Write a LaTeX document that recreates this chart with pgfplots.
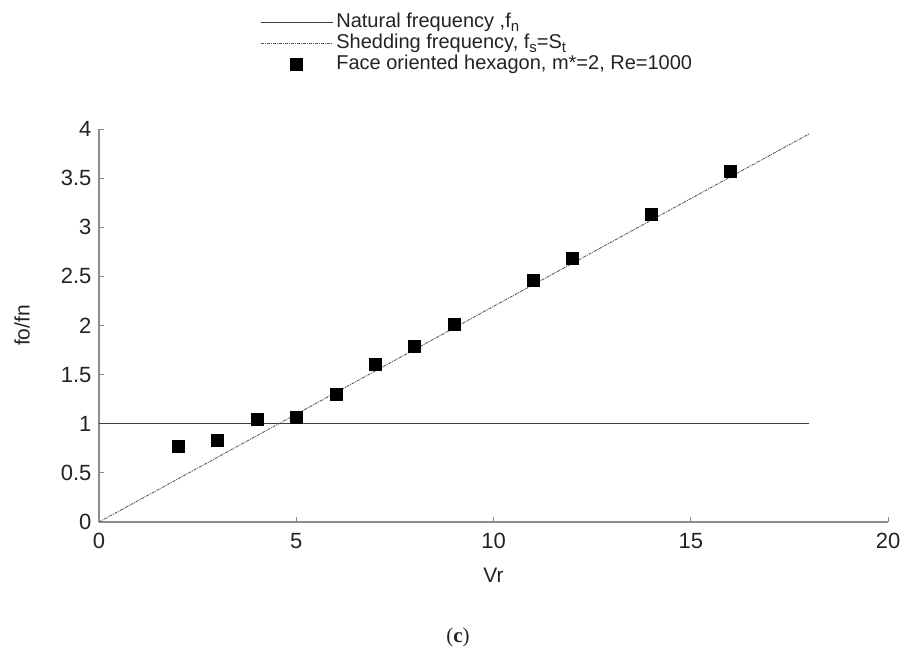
\documentclass[border=0pt]{standalone}
\usepackage{fontspec}
\setmainfont{Liberation Sans}
\newfontfamily\capfont{Liberation Serif}
\usepackage{pgfplots}
\pgfplotsset{compat=1.18}
\definecolor{axisgray}{RGB}{140,140,140}
\definecolor{txtgray}{RGB}{35,35,35}
\definecolor{linegray}{RGB}{60,60,60}
\definecolor{shedgray}{RGB}{90,90,90}
\begin{document}
\begin{tikzpicture}
\path[use as bounding box] (-99pt,-129pt) rectangle (805pt,522pt);
\begin{axis}[
  at={(0pt,0pt)}, anchor=south west, scale only axis,
  width=789pt, height=393pt,
  xmin=0, xmax=20, ymin=0, ymax=4,
  clip=false,
  axis x line*=bottom, axis y line*=left,
  axis line style={axisgray, line width=1.2pt, -},
  tick align=inside,
  xtick={0,5,10,15,20},
  ytick={0,0.5,1,1.5,2,2.5,3,3.5,4},
  major tick length=5pt,
  tick style={axisgray, line width=1pt},
  /pgf/number format/assume math mode=true,
  tick label style={font=\fontsize{22}{24}\selectfont, text=txtgray},
  xticklabel style={yshift=-8pt},
  yticklabel style={xshift=-4pt},
  xlabel={Vr},
  xlabel style={at={(axis description cs:0.5,-0.135)}, anchor=center, font=\fontsize{21}{23}\selectfont, text=txtgray},
  ylabel={fo/fn},
  ylabel style={at={(axis description cs:-0.0976,0.5)}, anchor=center, font=\fontsize{21}{23}\selectfont, text=txtgray},
  legend style={at={(rel axis cs:0.204,1.298)}, anchor=north west, draw=none, fill=none,
    inner sep=0pt, row sep=0pt,
    nodes={font=\fontsize{20}{22}\selectfont, text=txtgray, text height=14pt, text depth=5pt, inner ysep=1pt, inner xsep=3pt}},
  legend cell align=left,
]
\addplot[linegray, line width=1.2pt,
  legend image code/.code={\draw[linegray, line width=1.2pt] (0pt,0pt) -- (72pt,0pt);}]
  coordinates {(0,1) (18,1)};
\addlegendentry{Natural frequency ,f\raisebox{-4pt}{\fontsize{15}{15}\selectfont n}}
\addplot[shedgray, line width=0.9pt, dash pattern=on 3pt off 1pt on 1pt off 1pt,
  legend image code/.code={\draw[shedgray, line width=0.9pt, dash pattern=on 3pt off 1pt on 1pt off 1pt] (0pt,0pt) -- (72pt,0pt);}]
  coordinates {(0,0) (18,3.95)};
\addlegendentry{Shedding frequency, f\raisebox{-4pt}{\fontsize{15}{15}\selectfont s}=S\raisebox{-4pt}{\fontsize{15}{15}\selectfont t}}
\addplot[only marks, mark=square*, mark size=6pt, black,
  legend image code/.code={\fill[black] (29pt,-6pt) rectangle (41pt,6pt);}]
  coordinates {(2,0.77) (3,0.83) (4,1.05) (5,1.07) (6,1.30) (7,1.61) (8,1.79) (9,2.01) (11,2.46) (12,2.69) (14,3.13) (16,3.57)};
\addlegendentry{Face oriented hexagon, m*=2, Re=1000}
\node[font=\capfont\fontsize{21}{23}\selectfont, text=txtgray] at (rel axis cs:0.455,-0.293) {(\textbf{c})};
\end{axis}
\end{tikzpicture}
\end{document}
